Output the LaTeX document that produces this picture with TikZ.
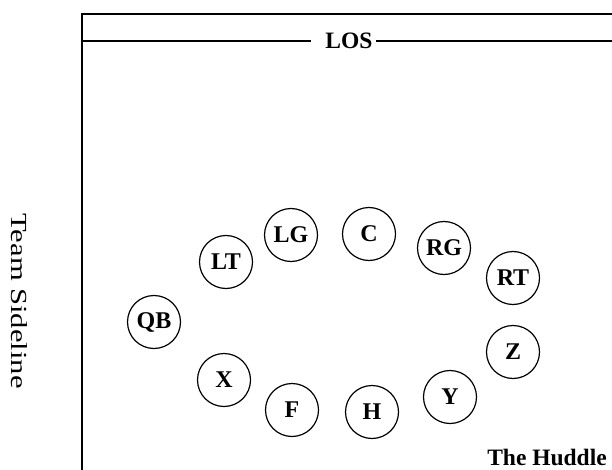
\documentclass[tikz,border=0pt]{standalone}
\usepackage{fontspec}
\setmainfont{Liberation Serif}
\begin{document}
\begin{tikzpicture}[x=1pt,y=-1pt,
  player/.style={circle,draw,line width=1.2pt,minimum size=53pt,inner sep=0pt,
    font=\bfseries\fontsize{24}{24}\selectfont},
  frame/.style={line width=1.6pt},
  label/.style={inner sep=0pt,font=\bfseries\fontsize{23.5}{23.5}\selectfont}]
\useasboundingbox (0,0) rectangle (612,470);
% frame
\coordinate (tr) at (612,14);
\coordinate (tl) at (82,14);
\coordinate (bl) at (82,470);
\draw[frame] (tr) -- (tl) -- (bl);
% LOS
\node[label] (los) at (349,41) {LOS};
\coordinate (losL0) at (82,41);
\coordinate (losL1) at (311,41);
\coordinate (losR0) at (376,41);
\coordinate (losR1) at (612,41);
\draw[frame] (losL0) -- (losL1);
\draw[frame] (losR0) -- (losR1);
% players
\node[player] (QB) at (154,322) {QB};
\node[player] (LT) at (226,262) {LT};
\node[player] (LG) at (291,235) {LG};
\node[player] (C)  at (369,234) {C};
\node[player] (RG) at (444,248) {RG};
\node[player] (RT) at (513,278) {RT};
\node[player] (Z)  at (513,352) {Z};
\node[player] (X)  at (224,380) {X};
\node[player] (F)  at (292,410) {F};
\node[player] (H)  at (372,412) {H};
\node[player] (Y)  at (450,397) {Y};
% labels
\node[label] (huddle) at (547,457) {The Huddle};
\node[inner sep=0pt,rotate=-90,font=\fontsize{23}{23}\selectfont] (side) at (19.5,301) {\scalebox{1.33}[1]{Team Sideline}};
\end{tikzpicture}
\end{document}
